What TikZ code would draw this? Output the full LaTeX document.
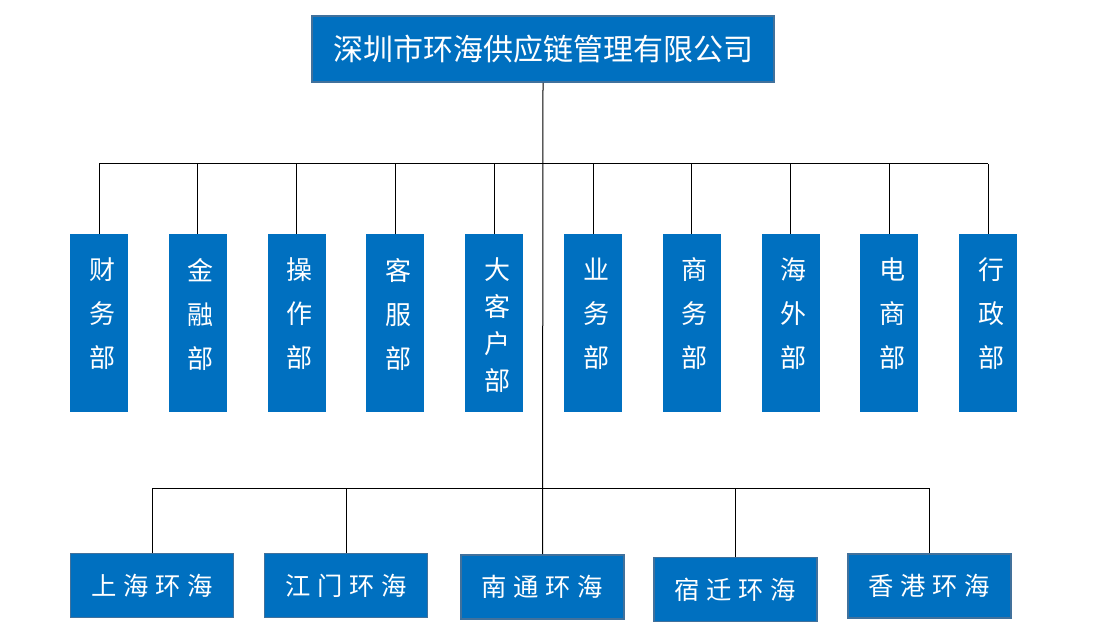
\documentclass[tikz,border=0pt]{standalone}
\usepackage{fontspec}
\setmainfont{Noto Sans CJK SC}
\usepackage{xcolor}
\definecolor{boxblue}{HTML}{0070C0}
\definecolor{edgeblue}{HTML}{41719C}
\newcommand{\gap}{\hspace{5pt}}

\begin{document}
\begin{tikzpicture}[x=0.75pt,y=-0.75pt,
  company/.style={fill=boxblue, draw=edgeblue, line width=1.2pt, text=white,
    minimum width=346.5pt, minimum height=49.5pt, inner sep=0pt,
    font=\fontsize{22.5}{27}\selectfont},
  dept/.style={fill=boxblue, minimum width=43.5pt, minimum height=133.5pt, inner sep=0pt},
  deptlbl/.style={text=white, align=center, inner sep=0pt, xshift=2.25pt,
    font=\fontsize{19.5}{33}\selectfont},
  branch/.style={fill=boxblue, draw=edgeblue, line width=1.2pt, text=white,
    minimum width=122.5pt, minimum height=48pt, inner sep=0pt,
    font=\fontsize{19}{22}\selectfont},
  link/.style={black, line width=0.75pt}]
\useasboundingbox (0,0) rectangle (1113,641);
%% company
\node[company] (top) at (543,49) {深圳市环海供应链管理有限公司};
%% departments
\foreach \i/\txt/\dy in {1/财\\务\\部/6.75, 2/金\\融\\部/6.75, 3/操\\作\\部/6.75,
    4/客\\服\\部/6.75, 5/大\\[-5.25pt]客\\[-5.25pt]户\\[-5.25pt]部/-1.5,
    6/业\\务\\部/6.75, 7/商\\务\\部/6.75, 8/海\\外\\部/6.75,
    9/电\\商\\部/6.75, 10/行\\政\\部/6.75}{
  \pgfmathsetmacro\xx{99+98.8*(\i-1)}
  \node[dept, label={[deptlbl, yshift=\dy pt]center:\txt}] (d\i) at (\xx,323) {};
}
%% branches
\node[branch] (b1) at (152,585.5) {上\gap 海\gap 环\gap 海};
\node[branch] (b2) at (346,585.5) {江\gap 门\gap 环\gap 海};
\node[branch] (b3) at (542.5,587) {南\gap 通\gap 环\gap 海};
\node[branch] (b4) at (735.5,589.5) {宿\gap 迁\gap 环\gap 海};
\node[branch] (b5) at (929.5,586) {香\gap 港\gap 环\gap 海};
%% links
\coordinate (busA) at (543,164);
\coordinate (busB) at (543,488);
\draw[link] (top.south) -- (b3.north);
\draw[link] (d1.north |- busA) -- (d10.north |- busA);
\foreach \i in {1,...,10}
  \draw[link] (d\i.north |- busA) -- (d\i.north);
\draw[link] (b1.north |- busB) -- (b5.north |- busB);
\foreach \i in {1,2,4,5}
  \draw[link] (b\i.north |- busB) -- (b\i.north);
\end{tikzpicture}
\end{document}
